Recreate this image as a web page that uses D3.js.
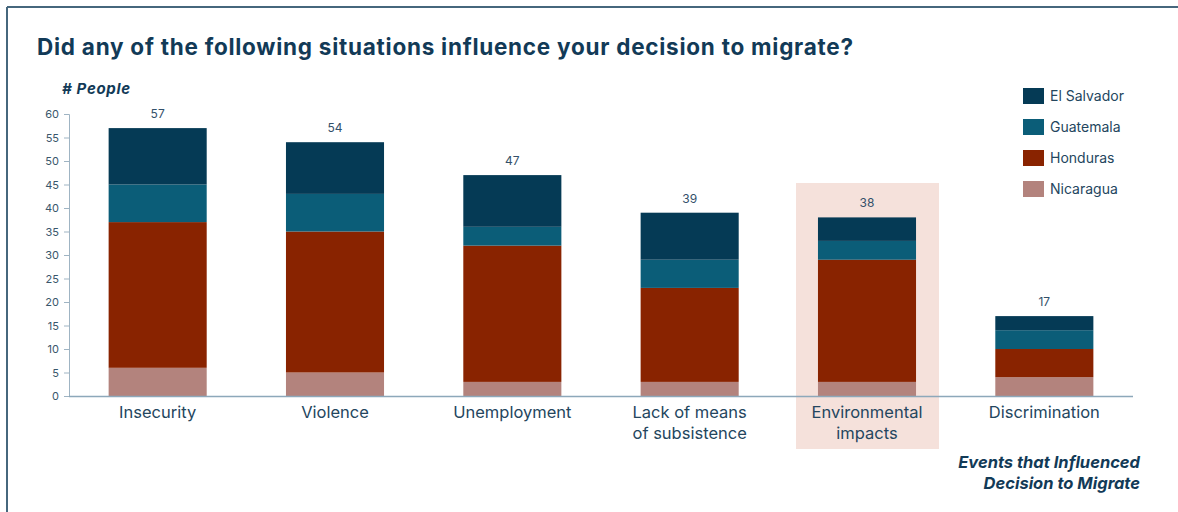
<!DOCTYPE html>
<html>
<head>
<meta charset="utf-8">
<script src="https://cdn.jsdelivr.net/npm/d3@7"></script>
<style>
  html, body { margin: 0; padding: 0; background: #ffffff; }
  svg { display: block; font-family: Inter, "Open Sans", sans-serif; }
</style>
</head>
<body>
<svg id="chart" width="1178" height="512"></svg>
<script>
// Reasons cited for migrating, stacked by country of origin
const categories = [
  ["Insecurity"],
  ["Violence"],
  ["Unemployment"],
  ["Lack of means", "of subsistence"],
  ["Environmental", "impacts"],
  ["Discrimination"]
];
const countries = ["Nicaragua", "Honduras", "Guatemala", "El Salvador"];
const nicaragua  = [6, 5, 3, 3, 3, 4];
const honduras   = [31, 30, 29, 20, 26, 6];
const guatemala  = [8, 8, 4, 6, 4, 4];
const elSalvador = [12, 11, 11, 10, 5, 3];
const totals     = [57, 54, 47, 39, 38, 17];
const yTicks     = [0, 5, 10, 15, 20, 25, 30, 35, 40, 45, 50, 55, 60];
const legendOrder = ["El Salvador", "Guatemala", "Honduras", "Nicaragua"];
const highlighted = "Environmental impacts";

const colors = {
  "El Salvador": "#053a55",
  "Guatemala": "#0b5d78",
  "Honduras": "#892300",
  "Nicaragua": "#b3837d"
};
const textColor = "#24465e";
const headColor = "#123a57";

const keys = categories.map(c => c.join(" "));
const rows = keys.map((k, i) => ({
  key: k,
  "Nicaragua": nicaragua[i],
  "Honduras": honduras[i],
  "Guatemala": guatemala[i],
  "El Salvador": elSalvador[i],
  total: totals[i],
  lines: categories[i]
}));

const svg = d3.select("#chart");

// frame lines (top and left edges)
svg.append("line").attr("x1", 7).attr("x2", 1178).attr("y1", 7).attr("y2", 7)
  .attr("stroke", "#46677d").attr("stroke-width", 2);
svg.append("line").attr("x1", 7).attr("x2", 7).attr("y1", 7).attr("y2", 512)
  .attr("stroke", "#46677d").attr("stroke-width", 2);

const x = d3.scaleBand().domain(keys).range([69, 1133])
  .paddingInner(0.447).paddingOuter(0.2235);
const y = d3.scaleLinear().domain([0, 60]).range([396, 114]);

// highlight panel behind one category
const hx = x(highlighted) + x.bandwidth() / 2;
svg.append("rect")
  .attr("x", hx - 71).attr("y", 183)
  .attr("width", 143).attr("height", 266)
  .attr("fill", "#f5e1db");

// title
svg.append("text").attr("x", 37).attr("y", 55)
  .attr("font-size", 22.5).attr("font-weight", 700).attr("fill", headColor)
  .attr("textLength", 816).attr("lengthAdjust", "spacing")
  .text("Did any of the following situations influence your decision to migrate?");

svg.append("text").attr("x", 62).attr("y", 94)
  .attr("font-size", 15).attr("font-weight", 700).attr("font-style", "italic")
  .attr("fill", headColor)
  .attr("textLength", 68).attr("lengthAdjust", "spacing")
  .text("# People");

// stacked bars
const stack = d3.stack().keys(countries)(rows);
svg.append("g").selectAll("g").data(stack).join("g")
  .attr("fill", d => colors[d.key])
  .selectAll("rect").data(d => d).join("rect")
  .attr("x", d => x(d.data.key))
  .attr("width", x.bandwidth())
  .attr("y", d => y(d[1]))
  .attr("height", d => y(d[0]) - y(d[1]));

// total labels
svg.append("g").selectAll("text").data(rows).join("text")
  .attr("x", d => x(d.key) + x.bandwidth() / 2)
  .attr("y", d => y(d.total) - 10)
  .attr("text-anchor", "middle")
  .attr("font-size", 12).attr("fill", "#33506a")
  .text(d => d.total);

// y axis
const yAxis = svg.append("g").attr("transform", "translate(69,0)")
  .call(d3.axisLeft(y).tickValues(yTicks).tickSize(5).tickPadding(5));
yAxis.select(".domain").attr("stroke", "#9fb4c3");
yAxis.selectAll(".tick line").attr("stroke", "#9fb4c3");
yAxis.selectAll(".tick text").attr("font-size", 11).attr("fill", "#3a566b")
  .attr("font-family", "Inter, sans-serif");

// x axis baseline
svg.append("line").attr("x1", 69).attr("x2", 1133).attr("y1", 396.5).attr("y2", 396.5)
  .attr("stroke", "#8da8ba").attr("stroke-width", 1.5);

// category labels
const catLabels = svg.append("g").selectAll("text").data(rows).join("text")
  .attr("text-anchor", "middle")
  .attr("font-size", 16.5).attr("fill", textColor);
catLabels.selectAll("tspan").data(d => d.lines.map(l => ({ l, cx: x(d.key) + x.bandwidth() / 2 })))
  .join("tspan")
  .attr("x", d => d.cx)
  .attr("y", (d, i) => 418 + i * 21)
  .text(d => d.l);

// x axis title
const xt = svg.append("text").attr("text-anchor", "end")
  .attr("font-size", 16.5).attr("font-weight", 700).attr("font-style", "italic")
  .attr("fill", headColor);
xt.append("tspan").attr("x", 1140).attr("y", 468).text("Events that Influenced");
xt.append("tspan").attr("x", 1140).attr("y", 489).text("Decision to Migrate");

// legend
const lg = svg.append("g").selectAll("g").data(legendOrder).join("g")
  .attr("transform", (d, i) => `translate(1023,${88 + i * 31})`);
lg.append("rect").attr("width", 21).attr("height", 16)
  .attr("fill", d => colors[d]);
lg.append("text").attr("x", 27).attr("y", 13)
  .attr("font-size", 14).attr("fill", textColor)
  .text(d => d);
</script>
</body>
</html>
